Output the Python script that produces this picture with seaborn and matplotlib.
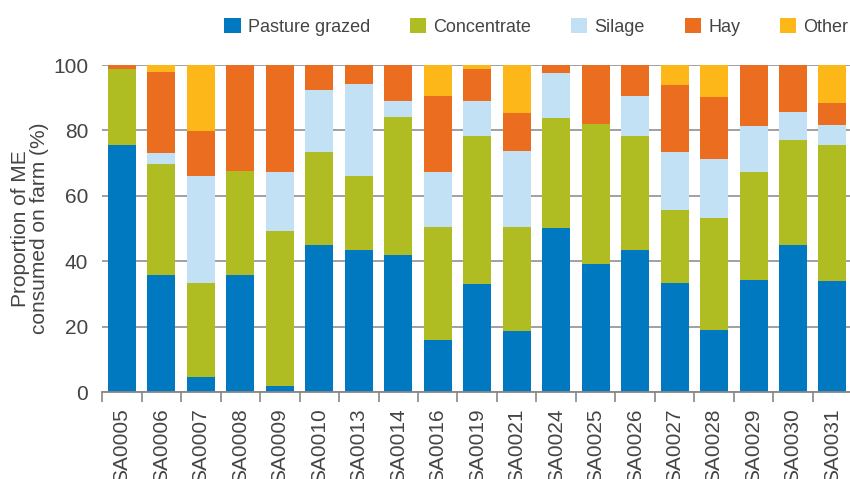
import numpy as np
import pandas as pd
import matplotlib
matplotlib.use("Agg")
import matplotlib.pyplot as plt
import seaborn as sns
from matplotlib.patches import Patch

farms = ['SA0005', 'SA0006', 'SA0007', 'SA0008', 'SA0009', 'SA0010', 'SA0013',
         'SA0014', 'SA0016', 'SA0019', 'SA0021', 'SA0024', 'SA0025', 'SA0026',
         'SA0027', 'SA0028', 'SA0029', 'SA0030', 'SA0031']

pasture = [75.5, 35.7, 4.5, 35.7, 1.7, 44.9, 43.4, 41.8, 15.8, 33.0,
           18.6, 50.1, 39.1, 43.4, 33.3, 18.9, 34.2, 44.9, 33.9]
concentrate = [23.3, 34.0, 28.8, 31.9, 47.5, 28.5, 22.6, 42.3, 34.6, 45.3,
               31.8, 33.7, 42.8, 34.9, 22.3, 34.3, 33.0, 32.1, 41.6]
silage = [0.0, 3.4, 32.7, 0.0, 18.0, 18.9, 28.2, 4.9, 16.8, 10.7,
          23.3, 13.8, 0.0, 12.2, 17.8, 18.0, 14.1, 8.6, 6.1]
hay = [1.2, 24.8, 13.8, 32.4, 32.8, 7.7, 5.8, 11.0, 23.3, 9.8,
       11.6, 2.4, 18.1, 9.5, 20.5, 19.0, 18.7, 14.4, 6.8]
other = [0.0, 2.1, 20.2, 0.0, 0.0, 0.0, 0.0, 0.0, 9.5, 1.2,
         14.7, 0.0, 0.0, 0.0, 6.1, 9.8, 0.0, 0.0, 11.6]

feeds = ['Pasture grazed', 'Concentrate', 'Silage', 'Hay', 'Other']
colors = ['#0079C1', '#AFBD22', '#C2E1F5', '#EB6D20', '#FDB718']

df = pd.DataFrame({'Farm': farms, 'Pasture grazed': pasture,
                   'Concentrate': concentrate, 'Silage': silage,
                   'Hay': hay, 'Other': other})
cum = df[feeds].cumsum(axis=1)

text_col = '#444444'
plt.rcParams['font.family'] = ['Liberation Sans', 'DejaVu Sans']

fig = plt.figure(figsize=(8.5, 4.79), dpi=100)
ax = fig.add_axes([0.1202, 0.1816, 0.8824, 0.6827])

# stacked bars: draw tallest cumulative layer first
for feed, col in reversed(list(zip(feeds, colors))):
    sns.barplot(x=df['Farm'], y=cum[feed], color=col, saturation=1,
                width=0.71, ax=ax, linewidth=0)

ax.set_ylim(0, 100)
ax.set_xlim(-0.5, len(farms) - 0.5)
ax.set_yticks(range(0, 101, 20))
ax.yaxis.grid(True, color='#999999', linewidth=1.3)
ax.set_axisbelow(True)

for s in ['top', 'right', 'left']:
    ax.spines[s].set_visible(False)
ax.spines['bottom'].set_color('#888888')
ax.spines['bottom'].set_linewidth(1.3)

# labels sit under the bars, boundary ticks between them
ax.set_xticks(range(len(farms)))
ax.set_xticklabels(farms, rotation=90, fontsize=15, color=text_col)
ax.set_xticks(np.arange(-0.5, len(farms)), minor=True)
ax.tick_params(axis='x', which='major', length=0, pad=12)
ax.tick_params(axis='x', which='minor', length=7, width=1.2, color='#888888')
ax.tick_params(axis='y', length=0, pad=10, labelsize=15, labelcolor=text_col)

ax.set_xlabel('')
ax.set_ylabel('Proportion of ME\nconsumed on farm (%)', fontsize=15,
              color=text_col, linespacing=1.0, labelpad=3)

handles = [Patch(facecolor=c, edgecolor='none', label=f) for f, c in zip(feeds, colors)]
fig.legend(handles=handles, loc='center right', bbox_to_anchor=(1.017, 0.943),
           ncol=5, frameon=False, fontsize=13, handlelength=0.9,
           handleheight=0.9, handletextpad=0.4, columnspacing=2.2,
           labelcolor=text_col)

plt.savefig('out.png', dpi=100, facecolor='white')
